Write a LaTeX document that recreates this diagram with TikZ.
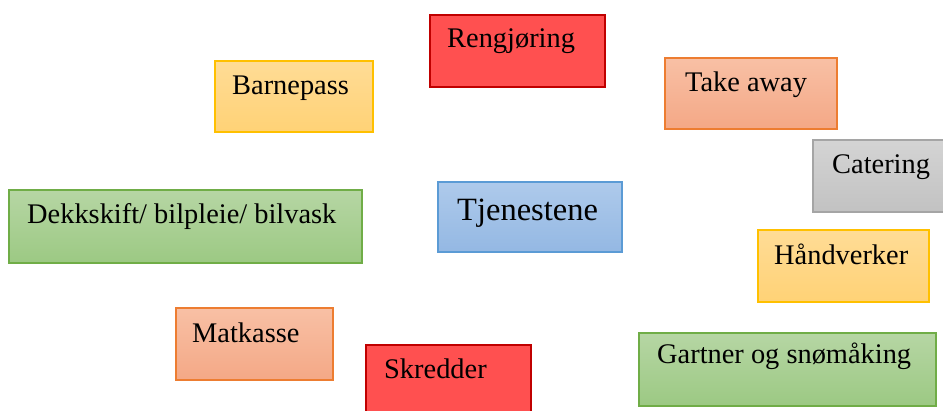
\documentclass[tikz,border=0pt]{standalone}
\usepackage{fontspec}
\setmainfont{Liberation Serif}
\begin{document}
\begin{tikzpicture}[x=1pt,y=-1pt,
  box/.style={rectangle,line width=1.6pt,inner sep=0pt,anchor=north west},
  redbox/.style={box,draw={rgb,255:red,192;green,0;blue,0},fill={rgb,255:red,255;green,80;blue,80}},
  yelbox/.style={box,draw={rgb,255:red,255;green,192;blue,0},top color={rgb,255:red,255;green,220;blue,150},bottom color={rgb,255:red,255;green,210;blue,118}},
  salbox/.style={box,draw={rgb,255:red,237;green,125;blue,49},top color={rgb,255:red,248;green,192;blue,165},bottom color={rgb,255:red,244;green,168;blue,134}},
  grnbox/.style={box,draw={rgb,255:red,112;green,173;blue,71},top color={rgb,255:red,182;green,214;blue,164},bottom color={rgb,255:red,156;green,201;blue,131}},
  grybox/.style={box,draw={rgb,255:red,165;green,165;blue,165},top color={rgb,255:red,212;green,212;blue,212},bottom color={rgb,255:red,194;green,194;blue,194}},
  blubox/.style={box,draw={rgb,255:red,91;green,155;blue,213},top color={rgb,255:red,174;green,202;blue,235},bottom color={rgb,255:red,148;green,184;blue,227}},
  lbl/.style={anchor=base west,inner sep=0pt,font=\fontsize{28.4}{32}\selectfont},
  title/.style={anchor=base west,inner sep=0pt,font=\fontsize{32.5}{38}\selectfont}]
\clip (0,0) rectangle (943,410);
\fill[white] (0,0) rectangle (943,410);
% boxes
\node[redbox,minimum width=175pt,minimum height=72pt] (rengjoring) at (429,14) {};
\node[lbl] (trengjoring) at (447,47) {Rengjøring};
\node[yelbox,minimum width=158pt,minimum height=71pt] (barnepass) at (214,60) {};
\node[lbl] (tbarnepass) at (232,94) {Barnepass};
\node[salbox,minimum width=172pt,minimum height=71pt] (takeaway) at (664,57) {};
\node[lbl] (ttakeaway) at (685,91) {Take away};
\node[grybox,minimum width=134pt,minimum height=72pt] (catering) at (812,139) {};
\node[lbl] (tcatering) at (832,173) {Catering};
\node[grnbox,minimum width=353pt,minimum height=73pt] (dekkskift) at (8,189) {};
\node[lbl] (tdekkskift) at (27,223) {Dekkskift/ bilpleie/ bilvask};
\node[blubox,minimum width=184pt,minimum height=70pt] (tjenestene) at (437,181) {};
\node[title] (ttjenestene) at (457,220) {Tjenestene};
\node[yelbox,minimum width=171pt,minimum height=72pt] (handverker) at (757,229) {};
\node[lbl] (thandverker) at (774,264) {Håndverker};
\node[salbox,minimum width=157pt,minimum height=72pt] (matkasse) at (175,307) {};
\node[lbl] (tmatkasse) at (192,342) {Matkasse};
\node[redbox,minimum width=165pt,minimum height=80pt] (skredder) at (365,344) {};
\node[lbl] (tskredder) at (384,378) {Skredder};
\node[grnbox,minimum width=297pt,minimum height=73pt] (gartner) at (638,332) {};
\node[lbl] (tgartner) at (657,363) {Gartner og snømåking};
\end{tikzpicture}
\end{document}
